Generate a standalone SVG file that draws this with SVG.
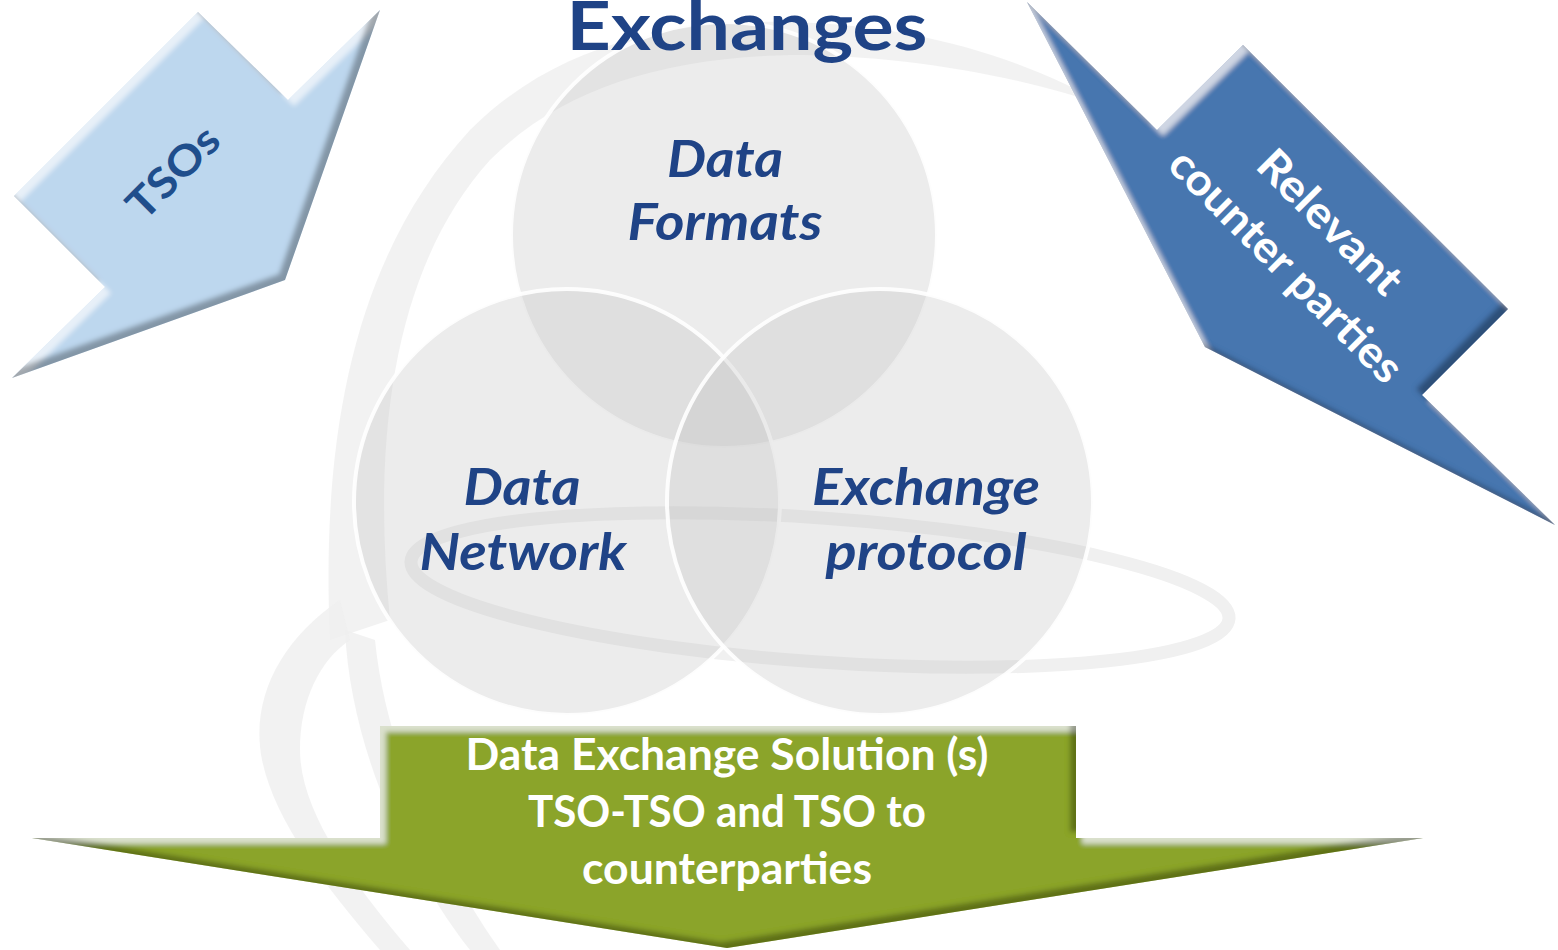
<svg xmlns="http://www.w3.org/2000/svg" width="1558" height="950" viewBox="0 0 1558 950">
<style>
.lbl{font-family:Lato,"Liberation Sans",sans-serif;font-weight:bold;font-style:italic;font-size:52px;fill:#1F4386;text-anchor:middle}
.wt{font-family:Lato,"Liberation Sans",sans-serif;font-weight:bold;font-size:44px;fill:#ffffff;text-anchor:middle}
.circ{fill:#BFBFBF;fill-opacity:0.3;stroke:#ffffff;stroke-width:4;stroke-opacity:0.9}
.swirl{fill:#EFEFEF;fill-opacity:0.8}
</style>
<defs>
<filter id="bevel" x="-5%" y="-5%" width="110%" height="110%">
<feOffset in="SourceAlpha" dx="6" dy="6" result="o1"/>
<feGaussianBlur in="o1" stdDeviation="2.5" result="b1"/>
<feComposite in="SourceAlpha" in2="b1" operator="out" result="hl"/>
<feFlood flood-color="#ffffff" flood-opacity="0.6"/>
<feComposite in2="hl" operator="in" result="hlc"/>
<feOffset in="SourceAlpha" dx="-6" dy="-6" result="o2"/>
<feGaussianBlur in="o2" stdDeviation="2.5" result="b2"/>
<feComposite in="SourceAlpha" in2="b2" operator="out" result="sh"/>
<feFlood flood-color="#000000" flood-opacity="0.55"/>
<feComposite in2="sh" operator="in" result="shc"/>
<feMerge><feMergeNode in="SourceGraphic"/><feMergeNode in="hlc"/><feMergeNode in="shc"/></feMerge>
</filter>
</defs>
<rect width="1558" height="950" fill="#ffffff"/>
<g id="background-swirl">
<path class="swirl" d="M330,640 C320,420 360,250 470,130 C560,40 680,20 790,22 C920,25 1030,60 1110,108 C1020,75 900,55 790,55 C660,58 560,90 490,160 C400,260 370,420 390,620 Z"/>
<path class="swirl" d="M345,630 C350,740 400,860 470,950 L500,950 C430,850 385,740 375,640 Z"/>
<path class="swirl" d="M340,600 C280,640 250,700 262,760 C275,820 320,880 380,950 L410,950 C350,880 300,810 300,750 C300,700 320,660 350,640 Z"/>
<ellipse cx="820" cy="590" rx="410" ry="72" transform="rotate(4 820 590)" fill="none" stroke="#F0F0F0" stroke-width="13"/>
</g>
<g id="data-formats">
<circle class="circ" cx="724" cy="235" r="213"/>
<text class="lbl" x="725" y="177" textLength="116" lengthAdjust="spacingAndGlyphs">Data</text>
<text class="lbl" x="725" y="240" textLength="195" lengthAdjust="spacingAndGlyphs">Formats</text>
</g>
<g id="data-network">
<circle class="circ" cx="567" cy="502" r="213"/>
<text class="lbl" x="522" y="505" textLength="117" lengthAdjust="spacingAndGlyphs">Data</text>
<text class="lbl" x="523" y="570" textLength="207" lengthAdjust="spacingAndGlyphs">Network</text>
</g>
<g id="exchange-protocol">
<circle class="circ" cx="880" cy="502" r="213"/>
<text class="lbl" x="926" y="505" textLength="228" lengthAdjust="spacingAndGlyphs">Exchange</text>
<text class="lbl" x="926" y="570" textLength="201" lengthAdjust="spacingAndGlyphs">protocol</text>
</g>
<g id="title">
<text x="747" y="50" font-family="Lato,'Liberation Sans',sans-serif" font-weight="bold" font-size="66" fill="#1F4386" text-anchor="middle" textLength="361" lengthAdjust="spacingAndGlyphs">Exchanges</text>
</g>
<g id="tsos">
<polygon points="198,12 288,100 380,10 285,280 12,378 105,287 14,196" fill="#BDD7EE" filter="url(#bevel)"/>
<text transform="translate(173,172) rotate(-45)" x="0" y="15" font-family="Lato,'Liberation Sans',sans-serif" font-weight="bold" font-size="42" fill="#1F4E8C" text-anchor="middle" textLength="112" lengthAdjust="spacingAndGlyphs">TSOs</text>
</g>
<g id="relevant-counter-parties">
<polygon points="1027,2 1157,130 1243,45 1508,309 1422,395 1555,525 1205,347" fill="#4676AF" filter="url(#bevel)"/>
<g transform="translate(1308,244) rotate(45)">
<text class="wt" x="0" y="-16" font-size="44" textLength="185" lengthAdjust="spacingAndGlyphs">Relevant</text>
<text class="wt" x="0" y="46" font-size="44" textLength="310" lengthAdjust="spacingAndGlyphs">counter parties</text>
</g>
</g>
<g id="data-exchange-solution">
<polygon points="380,726 1076,726 1076,838 1423,838 727,948 32,838 380,838" fill="#8BA42B" filter="url(#bevel)"/>
<text class="wt" x="727" y="770" textLength="523" lengthAdjust="spacingAndGlyphs">Data Exchange Solution (s)</text>
<text class="wt" x="727" y="827" textLength="398" lengthAdjust="spacingAndGlyphs">TSO-TSO and TSO to</text>
<text class="wt" x="727" y="884" textLength="290" lengthAdjust="spacingAndGlyphs">counterparties</text>
</g>
<g id="connectors"></g>
</svg>
